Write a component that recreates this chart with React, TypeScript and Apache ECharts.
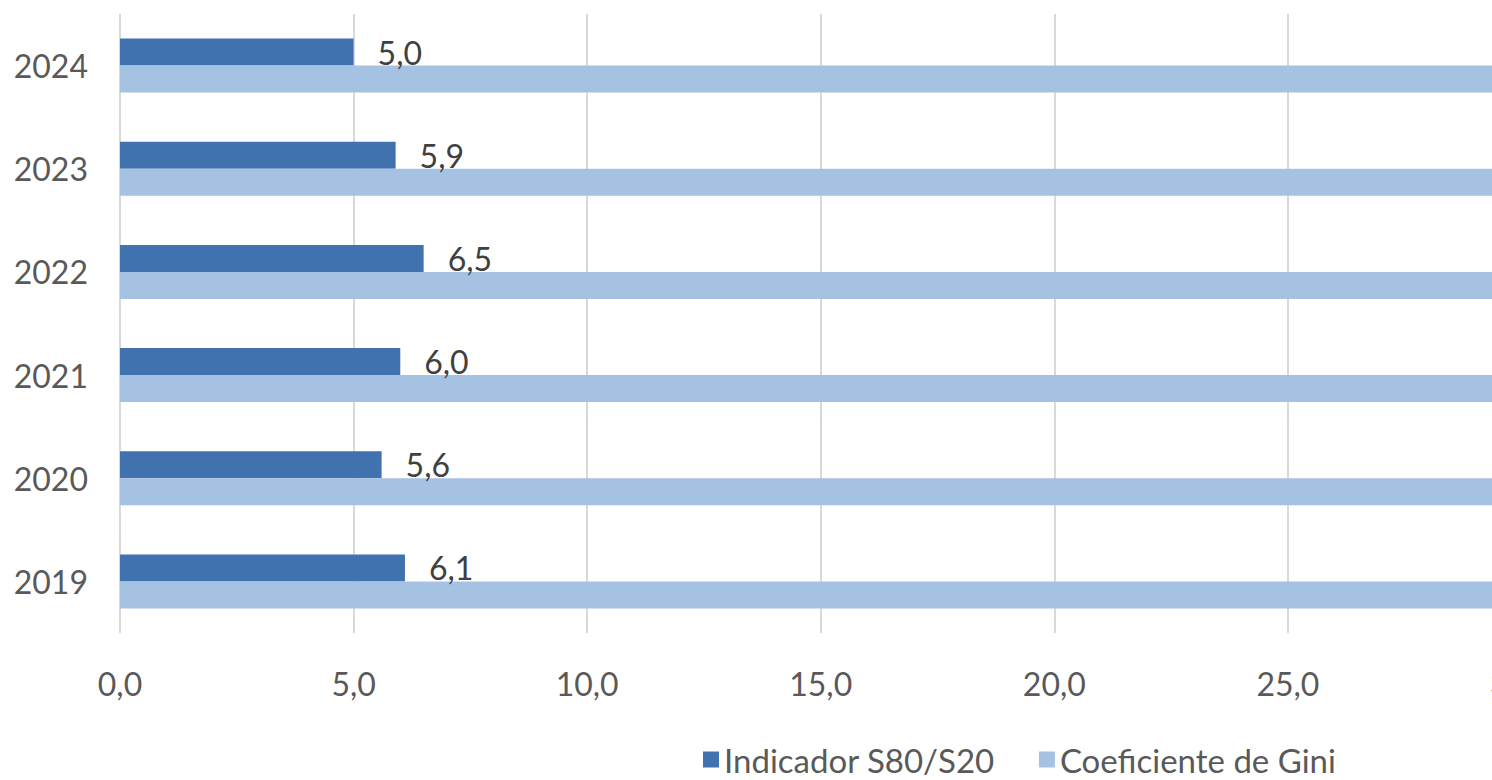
import React, { useEffect, useRef } from "react";
import * as echarts from "echarts";

const years = ["2019", "2020", "2021", "2022", "2023", "2024"];
const s80s20 = [6.1, 5.6, 6.0, 6.5, 5.9, 5.0];
const gini = [34.2, 32.9, 33.4, 34.5, 33.6, 31.1];
const seriesNames = ["Indicador S80/S20", "Coeficiente de Gini"];
const xMin = 0;
const xMax = 35;
const xStep = 5;

const FONT = "Lato, 'Open Sans', sans-serif";
const fmt = (v: number) => v.toFixed(1).replace(".", ",");

export default function App() {
  const ref = useRef<HTMLDivElement>(null);
  useEffect(() => {
    if (!ref.current) return;
    const chart = echarts.init(ref.current, undefined, { renderer: "svg" });
    chart.setOption({
      animation: false,
      textStyle: { fontFamily: FONT },
      legend: {
        left: 698,
        top: 738,
        itemWidth: 16,
        itemHeight: 16,
        itemGap: 44,
        icon: "rect",
        textStyle: { fontFamily: FONT, fontSize: 33, color: "#595959" },
        data: seriesNames,
      },
      grid: { left: 120, top: 14, bottom: 147, right: 145 },
      xAxis: {
        type: "value",
        min: xMin,
        max: xMax,
        interval: xStep,
        axisLine: { show: false },
        axisTick: { show: false },
        splitLine: { show: true, lineStyle: { color: "#D9D9D9", width: 2 } },
        axisLabel: {
          formatter: (v: number) => fmt(v),
          fontFamily: FONT,
          fontSize: 32,
          color: "#595959",
          margin: 34,
        },
      },
      yAxis: {
        type: "category",
        data: years,
        axisLine: { show: false },
        axisTick: { show: false },
        splitLine: { show: false },
        axisLabel: { fontFamily: FONT, fontSize: 32, color: "#595959", margin: 32 },
      },
      series: [
        {
          name: seriesNames[0],
          type: "bar",
          data: s80s20,
          barWidth: 27,
          barGap: "0%",
          itemStyle: { color: "#4172B0" },
          label: {
            show: true,
            position: "right",
            distance: 24,
            formatter: (p: any) => fmt(p.value),
            fontFamily: FONT,
            fontSize: 32,
            color: "#404040",
          },
        },
        {
          name: seriesNames[1],
          type: "bar",
          data: gini,
          barWidth: 27,
          barGap: "0%",
          itemStyle: { color: "#A6C2E2" },
        },
      ],
    });
    return () => chart.dispose();
  }, []);
  return (
    <div
      style={{
        position: "fixed",
        left: 0,
        top: 0,
        width: 1492,
        height: 780,
        overflow: "hidden",
        background: "#fff",
      }}
    >
      <div ref={ref} style={{ width: 1900, height: 780 }} />
    </div>
  );
}
